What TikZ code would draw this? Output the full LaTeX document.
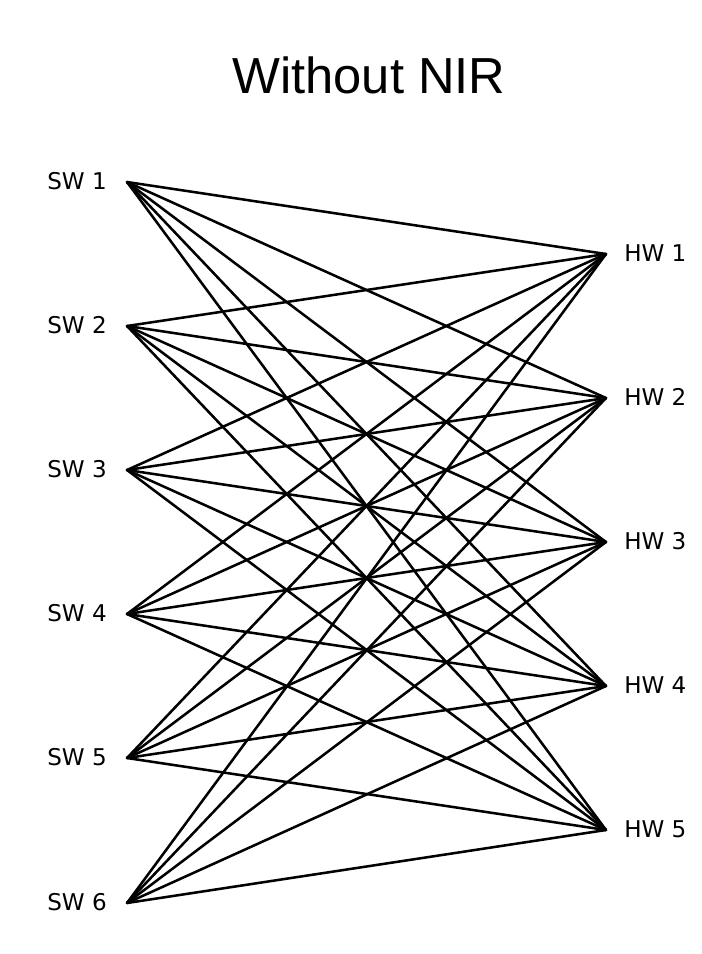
\documentclass[tikz,border=0pt]{standalone}
\usepackage{fontspec}
\usepackage{tikz}
\usetikzlibrary{positioning}
\newfontfamily\labelfont{DejaVu Sans}
\newfontfamily\titlefont{Liberation Sans}

\begin{document}
\begin{tikzpicture}[
        x=0.75pt, y=-0.75pt,
        port/.style={coordinate},
        tag/.style={font=\labelfont\fontsize{17.3}{20}\selectfont, inner sep=0pt},
        link/.style={draw=black, line width=1.9pt, line cap=round},
        heading/.style={font=\titlefont\fontsize{38}{45}\selectfont, inner sep=0pt}
    ]
        \useasboundingbox (0,0) rectangle (702,954);
        \node[heading, anchor=base] (title) at (369,93) {Without NIR};
        % software side
        \foreach \i/\y in {1/182, 2/326, 3/470, 4/614, 5/758, 6/903} {
            \node[port] (sw\i) at (127,\y) {};
            \node[tag, anchor=base east] (swl\i) at (107,\y+7.5) {SW \i};
        }
        % hardware side
        \foreach \j/\y in {1/254, 2/398, 3/542, 4/686, 5/830} {
            \node[port] (hw\j) at (606,\y) {};
            \node[tag, anchor=base west] (hwl\j) at (624,\y+7.5) {HW \j};
        }
        \foreach \i in {1,...,6} {
            \foreach \j in {1,...,5} {
                \draw[link] (sw\i) -- (hw\j);
            }
        }
    \end{tikzpicture}
\end{document}
